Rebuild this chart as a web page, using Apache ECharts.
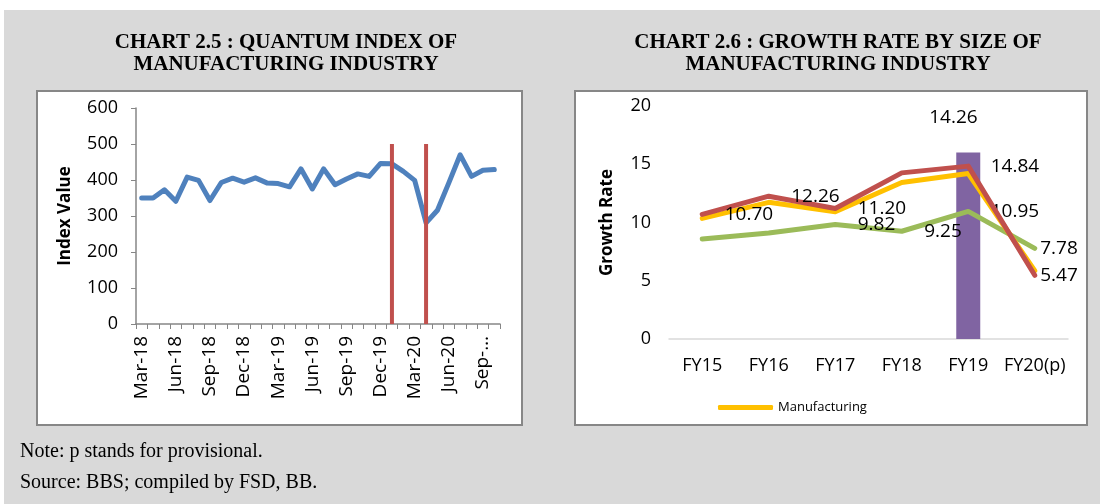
<!DOCTYPE html>
<html>
<head>
<meta charset="utf-8">
<title>Chart 2.5 / 2.6</title>
<script src="https://cdn.jsdelivr.net/npm/echarts@6/dist/echarts.min.js"></script>
<style>
  html, body { margin: 0; padding: 0; background: #fff; }
  #main { width: 1100px; height: 504px; }
</style>
</head>
<body>
<div id="main"></div>
<script>
// chart 2.5 - quantum index, monthly
var months = ['Mar-18', 'Apr-18', 'May-18', 'Jun-18', 'Jul-18', 'Aug-18', 'Sep-18', 'Oct-18',
  'Nov-18', 'Dec-18', 'Jan-19', 'Feb-19', 'Mar-19', 'Apr-19', 'May-19', 'Jun-19', 'Jul-19',
  'Aug-19', 'Sep-19', 'Oct-19', 'Nov-19', 'Dec-19', 'Jan-20', 'Feb-20', 'Mar-20', 'Apr-20',
  'May-20', 'Jun-20', 'Jul-20', 'Aug-20', 'Sep-20', 'Oct-20']
var quantumIndex = [350, 350, 373, 341, 408, 399, 343, 393, 405, 394, 406, 392, 390, 381, 431, 375,
  431, 387, 403, 417, 410, 446, 445, 424, 399, 281, 316, 392, 470, 410, 427, 429]
// the two red markers (Jan-20, Apr-20)
var markerBars = [null, null, null, null, null, null, null, null, null, null, null, null, null, null,
  null, null, null, null, null, null, null, null, 500, null, null, 500, null, null, null, null, null, null]
var indexTicks = [0, 100, 200, 300, 400, 500, 600]

// chart 2.6 - growth rate by size
var fiscalYears = ['FY15', 'FY16', 'FY17', 'FY18', 'FY19', 'FY20(p)']
var largeRate = [10.70, 12.26, 11.20, 14.26, 14.84, 5.47]
var manufacturingRate = [10.35, 11.73, 10.92, 13.44, 14.20, 5.86]
var smallRate = [8.58, 9.09, 9.82, 9.25, 10.95, 7.78]
var highlightBar = [null, null, null, null, 16, null]
var rateTicks = [0, 5, 10, 15, 20]

var numFont = 'Open Sans'

function withLabels (values, shown, extra) {
  return values.map(function (v, i) {
    if (shown.indexOf(i) < 0) return v
    var item = { value: v, label: { show: true } }
    if (extra[i]) Object.assign(item.label, extra[i])
    return item
  })
}

function fmt2 (p) {
  return p.value.toFixed(2)
}

var chart = echarts.init(document.getElementById('main'))

var option = {
  backgroundColor: '#fff',
  animation: false,
  textStyle: { fontFamily: numFont },
  title: [
    {
      text: 'CHART 2.5 : QUANTUM INDEX OF\nMANUFACTURING INDUSTRY',
      left: 281,
      top: 27,
      textAlign: 'center',
      textStyle: { fontFamily: 'Liberation Serif', fontWeight: 'bold', fontSize: 21, lineHeight: 22, color: '#000' }
    },
    {
      text: 'CHART 2.6 : GROWTH RATE BY SIZE OF\nMANUFACTURING INDUSTRY',
      left: 833,
      top: 27,
      textAlign: 'center',
      textStyle: { fontFamily: 'Liberation Serif', fontWeight: 'bold', fontSize: 21, lineHeight: 22, color: '#000' }
    }
  ],
  graphic: [
    { type: 'rect', z: -10, shape: { x: 4, y: 10, width: 1096, height: 494 }, style: { fill: '#d9d9d9' } },
    { type: 'rect', z: -9, shape: { x: 37, y: 91, width: 485, height: 334 }, style: { fill: '#fff', stroke: '#878787', lineWidth: 2 } },
    { type: 'rect', z: -9, shape: { x: 575, y: 91, width: 512, height: 334 }, style: { fill: '#fff', stroke: '#878787', lineWidth: 2 } },
    { type: 'text', x: 20, y: 452, style: { text: 'Note: p stands for provisional.', font: '20px "Liberation Serif"', fill: '#000', textVerticalAlign: 'middle' } },
    { type: 'text', x: 20, y: 483, style: { text: 'Source: BBS; compiled by FSD, BB.', font: '20px "Liberation Serif"', fill: '#000', textVerticalAlign: 'middle' } }
  ],
  legend: {
    data: ['Manufacturing'],
    left: 713,
    top: 396,
    icon: 'roundRect',
    itemWidth: 55,
    itemHeight: 5,
    textStyle: { fontFamily: numFont, fontSize: 13, color: '#000' }
  },
  grid: [
    { left: 136, right: 600, top: 108, bottom: 180 },
    { left: 669, right: 32, top: 106, bottom: 165 }
  ],
  xAxis: [
    {
      type: 'category',
      gridIndex: 0,
      data: months,
      boundaryGap: true,
      axisLine: { lineStyle: { color: '#868686', width: 1.5 } },
      axisTick: { show: true, interval: 0, length: 5, lineStyle: { color: '#868686' } },
      axisLabel: {
        interval: 2,
        rotate: 90,
        margin: 12,
        fontSize: 19,
        color: '#000',
        formatter: function (v) { return v === 'Sep-20' ? 'Sep-…' : v }
      }
    },
    {
      type: 'category',
      gridIndex: 1,
      data: fiscalYears,
      boundaryGap: true,
      axisLine: { lineStyle: { color: '#d9d9d9', width: 1.5 } },
      axisTick: { show: false },
      axisLabel: { interval: 0, margin: 18, fontSize: 18, color: '#000' }
    }
  ],
  yAxis: [
    {
      type: 'value',
      gridIndex: 0,
      min: indexTicks[0],
      max: indexTicks[indexTicks.length - 1],
      interval: 100,
      name: 'Index Value',
      nameLocation: 'middle',
      nameGap: 62,
      nameTextStyle: { fontSize: 17, fontWeight: 'bold', color: '#000' },
      axisLine: { show: true, lineStyle: { color: '#868686', width: 1.5 } },
      axisTick: { show: true, length: 5, lineStyle: { color: '#868686' } },
      splitLine: { show: false },
      axisLabel: { margin: 18, fontSize: 18, color: '#000' }
    },
    {
      type: 'value',
      gridIndex: 1,
      min: rateTicks[0],
      max: rateTicks[rateTicks.length - 1],
      interval: 5,
      name: 'Growth Rate',
      nameLocation: 'middle',
      nameGap: 53,
      nameTextStyle: { fontSize: 17, fontWeight: 'bold', color: '#000' },
      axisLine: { show: false },
      axisTick: { show: false },
      splitLine: { show: false },
      axisLabel: { margin: 18, fontSize: 18, color: '#000' }
    }
  ],
  series: [
    {
      name: 'Quantum Index',
      type: 'line',
      xAxisIndex: 0,
      yAxisIndex: 0,
      data: quantumIndex,
      showSymbol: false,
      lineStyle: { color: '#4f81bd', width: 5, cap: 'round', join: 'round' },
      itemStyle: { color: '#4f81bd' },
      z: 2
    },
    {
      name: 'Marker',
      type: 'bar',
      xAxisIndex: 0,
      yAxisIndex: 0,
      data: markerBars,
      barWidth: 4,
      itemStyle: { color: '#c0504d' },
      z: 3
    },
    {
      name: 'FY19 highlight',
      type: 'bar',
      xAxisIndex: 1,
      yAxisIndex: 1,
      data: highlightBar,
      barWidth: 24,
      itemStyle: { color: '#8064a2' },
      z: 1
    },
    {
      name: 'Small',
      type: 'line',
      xAxisIndex: 1,
      yAxisIndex: 1,
      data: withLabels(smallRate, [2, 3, 4, 5], { 5: { distance: 5 } }),
      showSymbol: true,
      symbol: 'circle',
      symbolSize: 1,
      lineStyle: { color: '#9bbb59', width: 5, cap: 'round', join: 'round' },
      itemStyle: { color: '#9bbb59' },
      label: { show: false, position: 'right', distance: 22, fontSize: 19, color: '#000', formatter: fmt2 },
      z: 2
    },
    {
      name: 'Manufacturing',
      type: 'line',
      xAxisIndex: 1,
      yAxisIndex: 1,
      data: manufacturingRate,
      showSymbol: false,
      lineStyle: { color: '#ffc000', width: 5, cap: 'round', join: 'round' },
      itemStyle: { color: '#ffc000' },
      z: 3
    },
    {
      name: 'Large',
      type: 'line',
      xAxisIndex: 1,
      yAxisIndex: 1,
      data: withLabels(largeRate, [0, 1, 2, 3, 4, 5], { 3: { offset: [5, -55] }, 5: { distance: 5 } }),
      showSymbol: true,
      symbol: 'circle',
      symbolSize: 1,
      lineStyle: { color: '#c0504d', width: 5, cap: 'round', join: 'round' },
      itemStyle: { color: '#c0504d' },
      label: { show: false, position: 'right', distance: 22, fontSize: 19, color: '#000', formatter: fmt2 },
      z: 4
    }
  ]
}

chart.setOption(option)
</script>
</body>
</html>
